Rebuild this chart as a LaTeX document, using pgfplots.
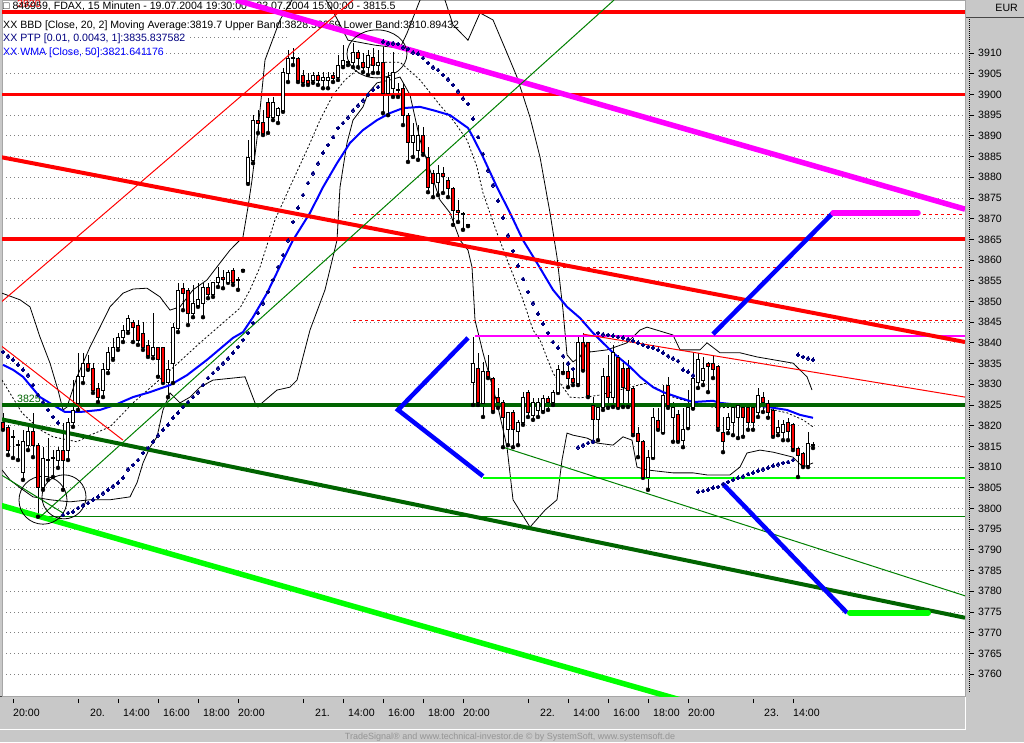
\documentclass[border=0pt]{standalone}
\usepackage{pgfplots}
\pgfplotsset{compat=1.18}
\usepackage{pgfplotstable}
\usepackage{fontspec}
\setmainfont{Liberation Sans}
\definecolor{cred}{RGB}{255,0,0}
\definecolor{cmag}{RGB}{255,0,255}
\definecolor{cdkgreen}{RGB}{0,100,0}
\definecolor{cgreen}{RGB}{0,128,0}
\definecolor{clime}{RGB}{0,255,0}
\definecolor{cblue}{RGB}{0,0,255}
\definecolor{cnavy}{RGB}{0,0,128}
\definecolor{panel}{RGB}{200,200,200}
\definecolor{gridc}{RGB}{128,128,128}
\newcommand\lab{\fontsize{10.6}{12}\selectfont}

\pgfdeclareplotmark{cbody}{%
  \pgfmathsetmacro{\bh}{max(\bodyh,1)}%
  \pgfpathrectangle{\pgfpoint{-1.6pt}{-0.5*\bh*1pt}}{\pgfpoint{3.2pt}{\bh*1pt}}%
  \pgfusepathqfillstroke}

\pgfplotstableread{
x o h l c
3 3820.9 3823.1 3819.0 3819.4
8 3819.7 3820.2 3812.9 3814.1
13 3817.3 3819.0 3812.2 3817.3
18 3815.3 3816.5 3811.7 3815.3
23 3808.6 3819.0 3806.9 3816.1
28 3815.3 3820.7 3814.1 3818.5
33 3818.5 3823.1 3812.4 3815.3
38 3815.3 3815.8 3798.0 3805.2
43 3805.0 3814.8 3804.5 3812.2
48 3811.7 3817.0 3806.9 3811.7
53 3812.2 3814.1 3807.6 3812.2
58 3811.7 3814.8 3809.8 3814.1
63 3814.1 3820.7 3804.5 3811.7
68 3814.1 3821.9 3811.7 3820.7
73 3820.7 3831.0 3819.7 3823.8
78 3825.5 3837.6 3823.8 3832.0
83 3831.8 3837.6 3830.3 3835.1
88 3835.1 3837.1 3833.5 3833.9
93 3833.9 3835.1 3827.9 3828.6
98 3829.1 3830.3 3825.7 3826.9
103 3828.6 3835.1 3826.9 3833.5
108 3833.5 3839.0 3832.7 3837.6
113 3836.6 3841.2 3835.9 3838.8
118 3838.8 3842.4 3838.3 3841.2
123 3841.2 3844.3 3840.2 3843.1
128 3843.1 3846.7 3842.4 3846.0
133 3845.0 3845.5 3840.2 3843.8
138 3844.3 3845.5 3839.5 3840.7
143 3842.4 3845.0 3838.3 3839.0
148 3839.5 3840.7 3836.6 3837.1
153 3837.1 3847.2 3836.3 3838.8
158 3838.8 3839.0 3831.8 3835.9
163 3838.8 3839.0 3830.3 3830.5
168 3830.5 3835.9 3826.9 3833.5
173 3835.1 3844.8 3830.3 3843.8
178 3843.6 3854.5 3842.6 3852.8
183 3853.2 3854.5 3847.9 3852.0
188 3852.8 3853.2 3844.3 3847.2
193 3847.2 3854.0 3846.2 3849.6
198 3849.1 3854.5 3848.7 3850.4
203 3849.6 3854.5 3846.2 3853.5
208 3853.5 3854.5 3850.8 3851.6
213 3851.6 3854.7 3851.1 3854.5
218 3854.5 3858.3 3853.5 3855.7
223 3855.9 3857.6 3853.2 3855.4
228 3854.7 3857.6 3854.5 3857.1
233 3857.6 3858.1 3854.0 3854.7
238 3855.2 3855.9 3852.8 3855.2
243 3857.6 3857.8 3857.4 3857.6
248 3878.8 3889.0 3878.4 3884.9
253 3884.2 3895.0 3883.4 3893.8
258 3893.8 3896.2 3890.7 3893.1
263 3893.3 3896.2 3890.2 3890.7
268 3898.2 3899.1 3890.7 3894.5
273 3894.5 3899.4 3893.8 3898.0
278 3895.0 3897.0 3893.1 3896.7
283 3896.2 3906.4 3895.8 3905.4
288 3905.2 3910.7 3903.0 3908.8
293 3908.8 3911.2 3907.1 3908.8
298 3908.8 3909.0 3903.0 3903.5
303 3904.7 3905.9 3902.3 3902.8
308 3903.5 3905.2 3902.3 3902.8
313 3903.5 3905.4 3902.8 3904.7
318 3904.7 3905.4 3902.3 3903.5
323 3903.5 3905.4 3901.5 3904.0
328 3903.5 3905.4 3901.5 3904.2
333 3904.7 3905.4 3903.0 3904.0
338 3904.0 3909.5 3903.5 3907.1
343 3907.1 3911.9 3906.6 3908.3
348 3907.8 3908.3 3907.1 3907.8
353 3907.8 3912.4 3906.6 3910.2
358 3910.2 3910.7 3906.6 3908.8
363 3907.8 3910.0 3905.4 3906.6
368 3906.6 3910.7 3904.7 3909.5
373 3909.0 3911.2 3905.2 3907.1
378 3907.1 3910.7 3905.2 3907.8
383 3907.8 3911.4 3895.5 3900.3
388 3900.3 3905.4 3895.0 3904.2
393 3901.5 3910.2 3899.4 3905.4
398 3901.1 3902.8 3899.4 3901.1
403 3901.5 3902.8 3892.6 3895.0
408 3895.0 3895.5 3883.7 3888.5
413 3888.5 3893.1 3884.9 3890.2
418 3886.6 3892.6 3884.2 3890.2
423 3890.2 3892.1 3885.4 3886.1
428 3884.9 3887.3 3876.4 3877.6
433 3881.0 3881.7 3875.2 3878.6
438 3878.8 3883.0 3875.7 3881.0
443 3881.0 3882.5 3876.2 3880.1
448 3879.3 3880.1 3875.2 3877.4
453 3877.4 3877.6 3868.5 3872.1
458 3872.1 3874.5 3869.2 3871.4
463 3871.1 3871.6 3867.3 3871.1
468 3868.5 3868.7 3868.2 3868.5
473 3830.5 3841.4 3825.0 3835.1
478 3833.9 3837.6 3825.0 3825.5
483 3825.5 3835.4 3822.1 3833.0
488 3833.0 3837.1 3831.5 3831.8
493 3831.5 3831.8 3823.3 3823.8
498 3826.9 3829.1 3824.3 3825.7
503 3825.7 3826.2 3814.8 3822.1
508 3819.0 3823.3 3815.3 3823.1
513 3823.1 3823.8 3814.8 3819.0
518 3818.5 3821.4 3815.3 3820.7
523 3820.7 3828.1 3820.2 3826.9
528 3828.1 3828.6 3822.1 3823.1
533 3822.6 3826.7 3821.4 3825.7
538 3823.8 3826.7 3822.1 3825.7
543 3823.8 3827.4 3823.3 3826.7
548 3826.7 3827.2 3823.8 3825.5
553 3825.5 3828.6 3825.0 3828.1
558 3828.1 3834.7 3827.9 3833.5
563 3833.0 3835.4 3832.7 3833.0
568 3833.0 3835.1 3829.3 3831.5
573 3831.5 3833.5 3829.8 3830.5
578 3830.3 3841.9 3829.8 3840.0
583 3840.0 3842.4 3833.3 3833.5
588 3840.0 3840.2 3826.9 3827.4
593 3825.0 3826.9 3816.1 3821.4
598 3821.4 3825.5 3816.5 3824.3
603 3824.3 3833.9 3823.8 3831.8
608 3831.8 3837.1 3824.3 3826.9
613 3826.9 3839.5 3824.5 3837.6
618 3836.6 3837.1 3824.3 3824.5
623 3833.9 3835.9 3824.5 3829.3
628 3833.9 3835.9 3824.5 3828.6
633 3829.1 3829.3 3817.7 3818.2
638 3818.2 3819.7 3812.4 3816.1
643 3816.1 3816.5 3807.4 3807.6
648 3807.6 3814.1 3804.5 3812.4
653 3812.4 3824.3 3812.2 3822.1
658 3821.4 3824.3 3819.0 3819.4
663 3818.5 3829.8 3818.3 3827.4
668 3829.8 3831.8 3824.3 3825.0
673 3822.1 3825.7 3816.1 3824.3
678 3822.6 3823.8 3816.1 3816.5
683 3816.5 3824.3 3814.8 3819.0
688 3819.7 3828.6 3819.4 3824.3
693 3824.3 3837.6 3824.1 3831.5
698 3830.5 3837.6 3829.1 3835.9
703 3831.0 3836.6 3829.8 3833.9
708 3835.1 3835.4 3828.1 3834.4
713 3835.1 3837.1 3831.5 3833.5
718 3834.2 3834.7 3819.0 3819.7
723 3818.5 3822.1 3813.6 3816.1
728 3819.0 3823.1 3818.2 3822.1
733 3820.9 3824.5 3817.7 3824.3
738 3822.1 3825.5 3817.0 3825.0
743 3824.3 3824.5 3817.3 3822.1
748 3824.3 3824.5 3819.0 3820.7
753 3824.5 3825.0 3819.0 3820.7
758 3823.1 3829.1 3822.1 3827.4
763 3826.9 3828.1 3823.3 3825.7
768 3825.5 3826.2 3821.9 3823.3
773 3823.8 3824.3 3817.3 3817.7
778 3818.5 3821.4 3817.7 3819.7
783 3818.5 3821.4 3816.5 3820.2
788 3820.7 3821.9 3816.5 3818.5
793 3820.2 3820.7 3814.1 3814.6
798 3814.6 3814.8 3807.6 3812.9
803 3813.4 3813.6 3810.0 3810.5
808 3810.5 3818.5 3810.0 3815.8
813 3815.3 3816.1 3814.6 3815.3
}\candles

\begin{document}
\begin{tikzpicture}
\useasboundingbox (0pt,0pt) rectangle (1024pt,742pt);
\fill[panel] (0pt,0pt) rectangle (1024pt,742pt);
\draw[gray!55!black, line width=1pt] (0pt,45.5pt) -- (965pt,45.5pt);
\draw[white, line width=1pt] (0pt,12.5pt) -- (965.5pt,12.5pt);
\draw[white, line width=1pt] (965.5pt,12pt) -- (965.5pt,46pt);
\draw[black, dash pattern=on 1pt off 1pt, line width=0.7pt] (969.5pt,50pt) -- (969.5pt,724pt);
\draw[gray!55!black, line width=0.8pt] (965pt,724.5pt) -- (1024pt,724.5pt);
\node[anchor=base east, font=\lab, inner sep=0pt] at (1018pt,730pt) {EUR};
\node[anchor=base, font=\fontsize{9}{10}\selectfont, text=black!42, inner sep=0pt] at (510pt,3pt) {TradeSignal® and www.technical-investor.de © by SystemSoft, www.systemsoft.de};
\begin{axis}[
  at={(2pt,46pt)}, anchor=south west,
  x=1pt, y=4.14pt,
  xmin=2, xmax=965, ymin=3754.7, ymax=3922.8,
  axis background/.style={fill=white},
  axis line style={draw=gray!70, line width=0.6pt},
  ymajorgrids,
  major grid style={gridc, dash pattern=on 1pt off 3pt, line width=0.9pt},
  ytick={3760,3765,...,3910},
  ytick pos=right, yticklabel pos=right,
  xtick pos=left,
  scaled y ticks=false,
  /pgf/number format/1000 sep={},
  /pgf/number format/assume math mode=true,
  tick align=outside,
  major tick length=4pt,
  ytick style={black, line width=0.8pt, xshift=5pt},
  xtick style={black, line width=0.8pt, yshift=-3pt},
  yticklabel style={font=\lab, anchor=west, inner sep=0pt, xshift=9pt},
  xtick={13,78,118,158,198,238,303,343,383,423,463,528,568,608,648,688,753,793},
  xticklabels={{20:00},{\kern12pt 20.},{\kern5pt 14:00},{\kern5pt 16:00},{\kern5pt 18:00},{20:00},{\kern12pt 21.},{\kern5pt 14:00},{\kern5pt 16:00},{\kern5pt 18:00},{20:00},{\kern12pt 22.},{\kern5pt 14:00},{\kern5pt 16:00},{\kern5pt 18:00},{20:00},{\kern11pt 23.},{14:00}},
  xticklabel style={font=\lab, anchor=base west, inner sep=0pt, yshift=-16pt},
]
% texts
\node[anchor=base west, font=\lab, inner sep=0pt, text=cred] at (axis cs:17,3921.0) {3920};
\node[anchor=base west, font=\lab, inner sep=0pt] at (axis cs:3,3920.4) {□ 846959, FDAX, 15 Minuten - 19.07.2004 19:30:00 - 23.07.2004 15:00:00 - 3815.5};
\node[anchor=base west, font=\lab, inner sep=0pt] at (axis cs:3,3916.0) {XX BBD [Close, 20, 2] Moving Average:3819.7 Upper Band:3828.50669 Lower Band:3810.89432};
\node[anchor=base west, font=\lab, inner sep=0pt, text=cnavy] at (axis cs:3,3912.7) {XX PTP [0.01, 0.0043, 1]:3835.837582};
\node[anchor=base west, font=\lab, inner sep=0pt, text=cblue] at (axis cs:3,3909.3) {XX WMA [Close, 50]:3821.641176};
\addplot[gridc, dash pattern=on 1pt off 3pt, line width=0.9pt] coordinates {(190,3913.7) (287,3913.7)};
\node[anchor=base west, font=\lab, inner sep=0pt, text=cdkgreen] at (axis cs:17,3825.7) {3825};

% wicks
\addplot[only marks, mark=none,
  error bars/.cd, y dir=plus, y explicit, error mark=none,
  error bar style={black, line width=0.9pt}]
  table[x=x, y=l, y error expr={\thisrow{h}-\thisrow{l}}] {\candles};
% up bodies
\addplot[scatter, only marks, mark=cbody,
  scatter/use mapped color={draw=black, fill=white},
  visualization depends on={abs(\thisrow{c}-\thisrow{o})*4.14 \as \bodyh},
  restrict expr to domain={\thisrow{c}-\thisrow{o}}{0:1000},
  mark options={line width=0.8pt}]
  table[x=x, y expr={(\thisrow{o}+\thisrow{c})/2}] {\candles};
% down bodies
\addplot[scatter, only marks, mark=cbody,
  scatter/use mapped color={draw=black, fill=cred},
  visualization depends on={abs(\thisrow{c}-\thisrow{o})*4.14 \as \bodyh},
  restrict expr to domain={\thisrow{c}-\thisrow{o}}{-1000:-0.001},
  mark options={line width=0.8pt}]
  table[x=x, y expr={(\thisrow{o}+\thisrow{c})/2}] {\candles};

% Bollinger upper
\addplot[black, line width=0.8pt] coordinates {
(2,3852.0)(20,3850.4)(30,3848.7)(40,3841.4)(50,3835.1)(58,3828.6)(63,3823.8)(67,3824.5)(77,3831.8)(90,3839.0)(100,3843.8)(110,3848.7)(123,3852.0)(133,3853.0)(147,3853.2)(160,3851.1)(170,3847.9)(180,3848.7)(193,3852.8)(207,3855.2)(220,3859.3)(230,3862.4)(243,3865.6)(248,3872.8)(252,3879.3)(258,3891.4)(265,3908.3)(280,3918.0)(292,3922.8)(300,3926.4)(320,3925.2)(335,3919.2)(348,3913.1)(375,3911.9)(400,3911.2)(407,3914.8)(420,3922.8)(435,3926.4)(445,3922.8)(453,3916.8)(468,3913.1)(480,3919.7)(493,3918.0)(507,3910.0)(517,3904.2)(530,3894.5)(540,3884.9)(550,3871.4)(557,3860.7)(563,3847.9)(567,3837.1)(573,3835.4)(580,3836.6)(587,3840.0)(590,3837.8)(607,3838.3)(627,3840.0)(640,3843.1)(647,3843.8)(673,3841.9)(680,3838.3)(700,3838.3)(707,3840.0)(720,3837.6)(740,3837.6)(757,3836.6)(793,3835.1)(807,3831.8)(812,3828.6)};
% Bollinger lower
\addplot[black, line width=0.8pt] coordinates {
(2,3809.3)(10,3806.9)(20,3805.0)(33,3802.8)(50,3802.1)(70,3801.6)(90,3802.1)(110,3802.1)(130,3802.8)(137,3806.2)(143,3811.0)(150,3814.8)(157,3817.3)(163,3823.8)(170,3827.9)(180,3825.5)(190,3826.9)(200,3829.3)(213,3831.0)(233,3831.5)(245,3831.8)(255,3825.5)(258,3824.5)(263,3825.7)(277,3828.6)(290,3829.3)(297,3831.0)(310,3843.1)(325,3852.8)(337,3864.8)(340,3877.6)(347,3888.3)(353,3893.8)(363,3897.0)(368,3900.3)(377,3902.8)(390,3903.5)(400,3904.2)(410,3899.9)(420,3889.0)(440,3874.5)(450,3871.4)(460,3864.8)(468,3862.4)(472,3858.3)(475,3845.5)(483,3837.6)(497,3825.5)(507,3814.8)(513,3802.1)(530,3795.5)(545,3799.6)(557,3802.1)(562,3811.7)(567,3818.2)(573,3817.7)(587,3817.0)(597,3815.8)(613,3815.3)(623,3817.3)(632,3816.5)(637,3810.0)(647,3809.3)(673,3808.6)(693,3808.6)(707,3808.1)(730,3808.1)(740,3810.0)(747,3813.4)(760,3814.1)(773,3813.6)(793,3812.4)(803,3810.0)(813,3811.0)};
% Bollinger middle
\addplot[black, line width=0.8pt, dash pattern=on 2pt off 2pt] coordinates {
(2,3831.0)(22,3823.1)(40,3819.0)(53,3817.3)(77,3816.1)(90,3817.7)(110,3819.7)(133,3825.5)(167,3832.7)(200,3840.0)(240,3848.4)(250,3852.8)(260,3858.3)(275,3869.7)(293,3879.3)(307,3886.6)(320,3893.8)(333,3899.9)(345,3903.5)(357,3905.9)(370,3907.1)(385,3907.8)(400,3907.8)(420,3903.5)(440,3897.4)(453,3893.8)(467,3889.0)(477,3882.5)(483,3876.2)(497,3866.5)(510,3858.3)(523,3850.4)(533,3843.1)(540,3840.7)(553,3832.7)(570,3826.9)(580,3826.7)(600,3827.4)(627,3829.1)(647,3830.3)(673,3826.9)(700,3825.0)(717,3824.3)(740,3824.5)(760,3824.5)(787,3823.1)(803,3821.4)(813,3819.7)};
% WMA
\addplot[cblue, line width=2pt] coordinates {
(3,3834.7)(13,3833.5)(23,3831.8)(40,3826.9)(53,3825.0)(65,3823.3)(80,3823.3)(100,3823.8)(115,3825.0)(133,3826.9)(150,3828.1)(170,3829.8)(187,3832.2)(207,3835.9)(233,3841.2)(243,3842.6)(253,3846.2)(267,3852.0)(283,3860.0)(293,3864.8)(310,3871.4)(323,3877.6)(337,3883.4)(350,3888.3)(363,3891.4)(377,3893.8)(390,3895.5)(403,3896.7)(420,3897.0)(433,3896.2)(450,3895.0)(468,3891.9)(473,3889.7)(483,3884.9)(497,3877.6)(510,3871.4)(523,3864.8)(537,3859.3)(553,3852.8)(567,3848.7)(580,3846.0)(593,3842.4)(613,3837.6)(630,3834.2)(640,3831.8)(653,3829.3)(663,3828.1)(680,3826.7)(693,3825.7)(713,3826.0)(720,3825.5)(740,3825.0)(760,3824.8)(787,3823.8)(800,3822.6)(813,3821.9)};
% Parabolic SAR
\addplot[only marks, mark=*, mark size=1.9pt, mark options={fill=cnavy, draw=cnavy, line width=0pt}] coordinates {
(3,3837.8)(8,3836.8)(13,3835.9)(18,3834.7)(23,3833.5)(28,3832.2)(33,3829.8)(38,3827.4)(43,3825.7)(48,3823.8)(53,3822.1)(58,3820.7)
(63,3798.4)(68,3798.9)(73,3799.2)(78,3800.1)(83,3800.8)(88,3801.3)(93,3802.1)(98,3802.8)(103,3803.7)(108,3804.5)(113,3805.4)(118,3806.2)(123,3807.4)(128,3809.5)(133,3810.5)(138,3811.7)(143,3813.4)(148,3814.6)(153,3816.1)(158,3817.7)(163,3819.0)(168,3820.2)(173,3821.9)(178,3823.1)(183,3824.5)(188,3825.7)(193,3826.9)(198,3828.1)(203,3829.8)(208,3831.5)(213,3832.7)(218,3833.9)(223,3835.1)(228,3836.3)(233,3837.6)(238,3839.0)(243,3840.7)(248,3842.4)(253,3844.8)(258,3847.2)(263,3849.6)(268,3852.3)(273,3855.2)(278,3858.3)(283,3861.2)(288,3864.8)(293,3869.2)(298,3872.6)(303,3875.7)(308,3878.6)(313,3881.0)(318,3883.4)(323,3885.9)(328,3887.8)(333,3889.7)(338,3891.9)(343,3893.1)(348,3894.5)(353,3896.2)(358,3897.4)(363,3898.6)(368,3899.9)(373,3901.1)(378,3901.8)
(383,3912.7)(388,3912.4)(393,3912.4)(398,3912.2)(403,3911.4)(408,3911.0)(413,3910.2)(418,3909.8)(423,3908.8)(428,3907.6)(433,3906.6)(438,3905.9)(443,3904.7)(448,3903.7)(453,3902.3)(458,3900.8)(463,3899.1)(468,3897.7)(473,3894.1)(478,3889.7)(483,3885.6)(488,3881.7)(493,3878.1)(498,3874.3)(503,3870.2)(508,3866.0)(513,3862.2)(518,3858.6)(523,3855.4)(528,3852.3)(533,3849.6)(538,3847.0)(543,3844.6)(548,3842.4)(553,3840.2)(558,3838.8)(563,3836.8)(568,3835.1)(573,3833.7)
(578,3814.8)(583,3815.3)(588,3815.8)(593,3816.1)
(598,3842.4)(603,3842.1)(608,3841.9)(613,3841.7)(618,3841.4)(623,3841.2)(628,3840.9)(633,3840.5)(638,3840.0)(643,3839.5)(648,3839.0)(653,3838.8)(658,3838.3)(663,3837.6)(668,3836.8)(673,3836.3)(678,3835.6)(683,3833.5)(688,3833.0)(693,3832.2)
(698,3804.0)(703,3804.2)(708,3804.5)(713,3805.0)(718,3805.2)(723,3805.9)(728,3806.4)(733,3806.9)(738,3807.4)(743,3807.8)(748,3808.3)(753,3808.6)(758,3809.1)(763,3809.5)(768,3809.8)(773,3810.3)(778,3810.7)(783,3811.0)(788,3811.2)(793,3811.7)
(798,3837.1)(803,3836.6)(808,3836.3)(813,3835.9)};

% drawn horizontal lines
\addplot[cred, line width=4pt] coordinates {(0,3920) (965,3920)};
\addplot[cred, line width=3pt] coordinates {(0,3900) (965,3900)};
\addplot[cred, line width=4pt] coordinates {(0,3865) (965,3865)};
\addplot[cdkgreen, line width=3.5pt] coordinates {(0,3825) (965,3825)};
\addplot[cred, line width=1pt, dash pattern=on 3pt off 3pt] coordinates {(353,3871.1) (965,3871.1)};
\addplot[cred, line width=1pt, dash pattern=on 3pt off 3pt] coordinates {(353,3858.3) (965,3858.3)};
\addplot[cred, line width=1pt, dash pattern=on 3pt off 3pt] coordinates {(353,3845.5) (965,3845.5)};
\addplot[cmag, line width=2pt] coordinates {(475,3841.7) (965,3841.7)};
\addplot[clime, line width=2pt] coordinates {(483,3807.4) (965,3807.4)};
\addplot[cgreen, line width=1pt] coordinates {(40,3798.0) (965,3798.0)};
% drawn sloped lines
\addplot[cmag, line width=5.5pt] coordinates {(236,3922.8) (965,3872.3)};
\addplot[cred, line width=4pt] coordinates {(0,3884.9) (965,3840.2)};
\addplot[cred, line width=1pt] coordinates {(0,3849.6) (353,3922.8)};
\addplot[cred, line width=1pt] coordinates {(0,3839.5) (123,3816.5)};
\addplot[cred, line width=1pt] coordinates {(583,3842.1) (965,3826.9)};
\addplot[cdkgreen, line width=4pt] coordinates {(0,3821.6) (965,3773.6)};
\addplot[clime, line width=5.5pt] coordinates {(0,3800.8) (700,3752.4)};
\addplot[cgreen, line width=1pt] coordinates {(40,3797.9) (614,3922.8)};
\addplot[cgreen, line width=1pt] coordinates {(0,3808.3) (63,3798.9)};
\addplot[cgreen, line width=1pt] coordinates {(503,3814.8) (965,3778.9)};
\addplot[cblue, line width=4.5pt] coordinates {(468,3841.2) (398,3823.8) (483,3807.8)};
\addplot[cblue, line width=4.5pt] coordinates {(713,3842.1) (833,3871.4)};
\addplot[cmag, line width=5.5pt, line cap=round] coordinates {(833,3871.4) (918,3871.4)};
\addplot[cblue, line width=4.5pt] coordinates {(723,3805.9) (847,3774.8)};
\addplot[clime, line width=6pt, line cap=round] coordinates {(850,3774.8) (928,3774.8)};
% circles
\draw[black, line width=0.8pt] (axis cs:43,3802.0) circle[radius=24pt];
\draw[black, line width=0.8pt] (axis cs:64,3802.8) circle[radius=22pt];
\draw[black, line width=0.8pt] (axis cs:377,3909.8) ellipse[x radius=30pt, y radius=24pt];
\end{axis}
\end{tikzpicture}
\end{document}
